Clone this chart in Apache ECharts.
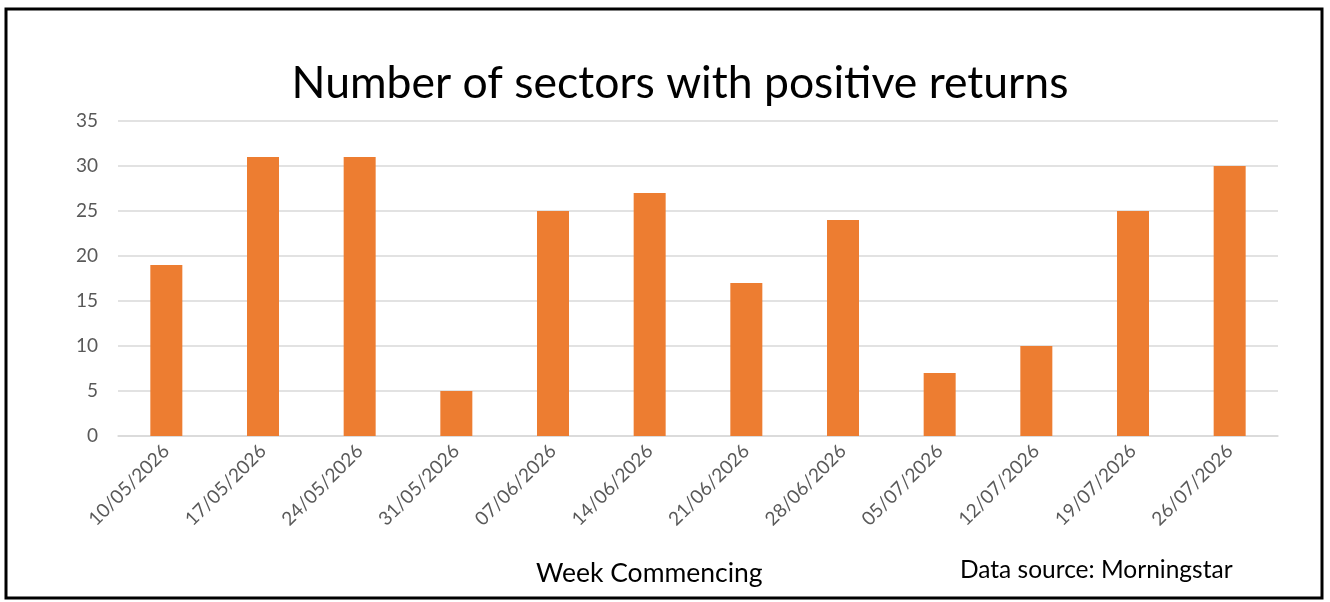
<!DOCTYPE html>
<html>
<head>
<meta charset="utf-8">
<script src="https://cdn.jsdelivr.net/npm/echarts@6/dist/echarts.min.js"></script>
<style>
  html, body { margin: 0; padding: 0; background: #fff; }
  #chart { width: 1330px; height: 602px; }
</style>
</head>
<body>
<div id="chart"></div>
<script>
const weeks = [
    "10/05/2026", "17/05/2026", "24/05/2026", "31/05/2026",
    "07/06/2026", "14/06/2026", "21/06/2026", "28/06/2026",
    "05/07/2026", "12/07/2026", "19/07/2026", "26/07/2026"
];
const positiveSectors = [19, 31, 31, 5, 25, 27, 17, 24, 7, 10, 25, 30];
const yMin = 0;
const yMax = 35;
const yStep = 5;

const chart = echarts.init(document.getElementById("chart"));
const font = "Lato, 'Open Sans', sans-serif";

let options = {
    animation: false,
    backgroundColor: "#fff",
    title: {
        text: "Number of sectors with positive returns",
        left: 675,
        top: 56,
        textAlign: "center",
        textStyle: {
            fontFamily: font,
            fontWeight: "normal",
            fontSize: 44.5,
            color: "#000",
        },
    },
    grid: {
        left: 118,
        right: 52,
        top: 121,
        bottom: 166,
        containLabel: false,
    },
    xAxis: {
        type: "category",
        data: weeks,
        axisTick: { show: false },
        axisLine: {
            show: true,
            lineStyle: { color: "#d9d9d9", width: 1.5 },
        },
        axisLabel: {
            interval: 0,
            rotate: 45,
            margin: 12,
            fontFamily: font,
            fontSize: 19,
            color: "#595959",
        },
    },
    yAxis: {
        type: "value",
        min: yMin,
        max: yMax,
        interval: yStep,
        axisLine: { show: false },
        axisTick: { show: false },
        splitLine: {
            lineStyle: { color: "#d9d9d9", width: 1.5 },
        },
        axisLabel: {
            margin: 20,
            fontFamily: font,
            fontSize: 19,
            color: "#595959",
        },
    },
    series: [
        {
            type: "bar",
            data: positiveSectors,
            barWidth: 32,
            itemStyle: { color: "#ED7D31" },
        },
    ],
    graphic: [
        {
            type: "rect",
            shape: { x: 6, y: 9, width: 1316, height: 589 },
            style: { fill: "none", stroke: "#000", lineWidth: 3 },
            silent: true,
        },
        {
            type: "text",
            left: 536,
            top: 560,
            style: {
                text: "Week Commencing",
                fontFamily: font,
                fontSize: 26.5,
                fill: "#000",
            },
        },
        {
            type: "text",
            left: 960,
            top: 558,
            style: {
                text: "Data source: Morningstar",
                fontFamily: font,
                fontSize: 24.5,
                fill: "#000",
            },
        },
    ],
};

chart.setOption(options);
</script>
</body>
</html>
